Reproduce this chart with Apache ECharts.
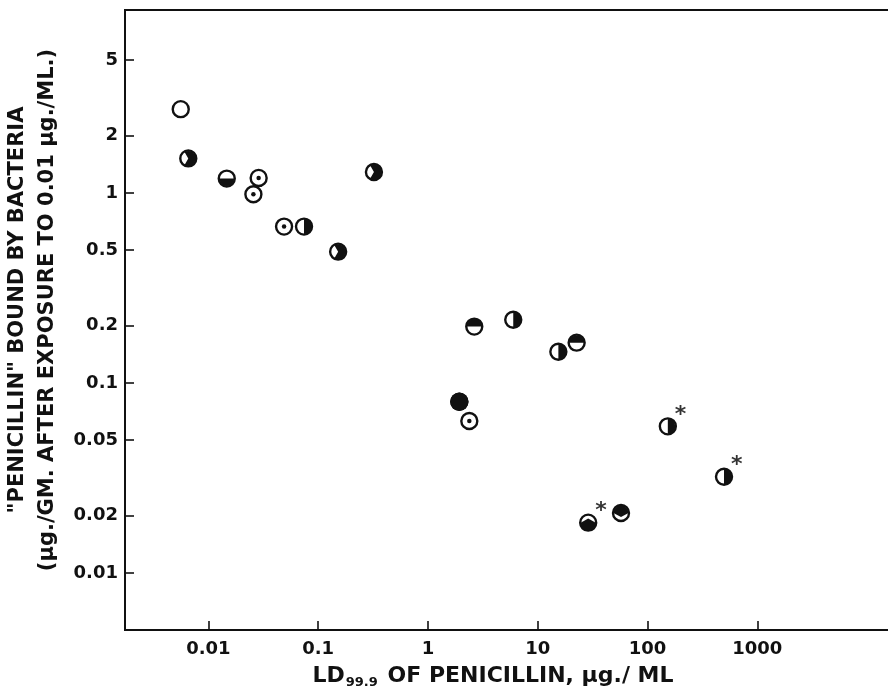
<!DOCTYPE html>
<html>
<head>
<meta charset="utf-8">
<script src="https://cdn.jsdelivr.net/npm/echarts@6/dist/echarts.min.js"></script>
<style>
  html, body { margin: 0; padding: 0; background: #fff; }
  #chart { width: 888px; height: 691px; }
</style>
</head>
<body>
<div id="chart"></div>
<script>
// LD99.9 (x) vs penicillin bound (y), one entry per strain
var xVals = [0.0056, 0.00656, 0.0147, 0.0287, 0.0257, 0.0489, 0.0743, 0.152, 0.322,
             2.64, 5.98, 15.4, 22.6, 1.93, 2.38, 153, 497, 28.8, 57.3]
var yVals = [2.76, 1.52, 1.19, 1.20, 0.984, 0.665, 0.665, 0.491, 1.29,
             0.198, 0.215, 0.146, 0.163, 0.0797, 0.0631, 0.0591, 0.0321, 0.0184, 0.0207]
var kinds = ['open', 'pac', 'bottomHalf', 'dot', 'dot', 'dot', 'rightHalf', 'pac', 'pac',
             'topHalf', 'rightHalf', 'rightHalf', 'topHalf', 'full', 'dot', 'rightHalf', 'rightHalf', 'arch', 'vee']
var starred = [0, 0, 0, 0, 0, 0, 0, 0, 0, 0, 0, 0, 0, 0, 0, 1, 1, 1, 0]

var xTicks = [0.01, 0.1, 1, 10, 100, 1000]
var xTickLabels = ['0.01', '0.1', '1', '10', '100', '1000']
var yTicks = [5, 2, 1, 0.5, 0.2, 0.1, 0.05, 0.02, 0.01]
var yTickLabels = ['5', '2', '1', '0.5', '0.2', '0.1', '0.05', '0.02', '0.01']

var ink = '#111'
var font = 'DejaVu Sans'
var R = 16 // marker diameter
var F = 15 // inner fill diameter

function pick (kind) {
  var out = []
  for (var i = 0; i < xVals.length; i++) {
    if (kind === null || kinds[i] === kind) out.push([xVals[i], yVals[i]])
  }
  return out
}
function labelFor (ticks, labels) {
  return function (v) {
    for (var i = 0; i < ticks.length; i++) {
      if (Math.abs(v - ticks[i]) < ticks[i] * 1e-6) return labels[i]
    }
    return ''
  }
}

// black inner shapes drawn over a white ring
var fills = {
  dot: { symbol: 'circle', size: 4.5, offset: [0, 0] },
  full: { symbol: 'circle', size: R + 2.4, offset: [0, 0] },
  rightHalf: { symbol: 'path://M0 -1 A1 1 0 0 1 0 1 Z', size: [F / 2, F], offset: [F / 4, 0] },
  bottomHalf: { symbol: 'path://M-1 0 A1 1 0 0 0 1 0 Z', size: [F, F / 2], offset: [0, F / 4] },
  topHalf: { symbol: 'path://M-1 0 A1 1 0 0 1 1 0 Z', size: [F, F / 2], offset: [0, -F / 4] },
  pac: { symbol: 'path://M0 0 L-0.5 -0.866 A1 1 0 1 1 -0.5 0.866 Z', size: [F * 1.5 / 2, F], offset: [F * 0.25 / 2, 0] },
  arch: { symbol: 'path://M-1 0 A1 1 0 0 0 1 0 L0 -0.55 Z', size: [F, F * 1.55 / 2], offset: [0, F * 0.225 / 2] },
  vee: { symbol: 'path://M-1 0 A1 1 0 0 1 1 0 L0 0.55 Z', size: [F, F * 1.55 / 2], offset: [0, -F * 0.225 / 2] }
}

var series = [{
  type: 'scatter',
  data: pick(null),
  symbol: 'circle',
  symbolSize: R,
  itemStyle: { color: '#fff', borderColor: ink, borderWidth: 2.4, opacity: 1 },
  silent: true,
  z: 2
}]
Object.keys(fills).forEach(function (k) {
  var f = fills[k]
  series.push({
    type: 'scatter',
    data: pick(k),
    symbol: f.symbol,
    symbolSize: f.size,
    symbolOffset: f.offset,
    itemStyle: { color: ink, opacity: 1 },
    silent: true,
    z: 3
  })
})
series.push({
  type: 'scatter',
  data: xVals.map(function (x, i) { return [x, yVals[i]] }).filter(function (d, i) { return starred[i] }),
  symbolSize: R,
  itemStyle: { color: 'rgba(0,0,0,0)' },
  label: {
    show: true,
    formatter: '*',
    position: 'right',
    distance: 0,
    offset: [-1, -11],
    color: '#000',
    fontFamily: font,
    fontWeight: 'bold',
    fontSize: 22
  },
  silent: true,
  z: 4
})

var chart = echarts.init(document.getElementById('chart'))
chart.setOption({
  animation: false,
  grid: {
    left: 125, right: -5, top: 10, bottom: 61,
    show: true, borderColor: ink, borderWidth: 2,
    outerBoundsMode: 'none'
  },
  xAxis: {
    type: 'log',
    logBase: 10,
    min: 0.00174,
    max: 17200,
    name: '{a|LD}{s|99.9}{a| OF PENICILLIN, μg./ ML}',
    nameLocation: 'middle',
    nameGap: 33,
    nameTextStyle: {
      padding: [0, 32, 0, 0],
      rich: {
        a: { fontFamily: font, fontWeight: 'bold', fontSize: 22, color: ink, lineHeight: 26, verticalAlign: 'middle' },
        s: { fontFamily: font, fontWeight: 'bold', fontSize: 13, color: ink, lineHeight: 12, verticalAlign: 'bottom', padding: [0, 2, 0, 1] }
      }
    },
    axisLine: { show: true, lineStyle: { color: ink, width: 2 } },
    axisTick: { show: true, inside: true, length: 9, lineStyle: { color: ink, width: 1.6 }, customValues: xTicks },
    axisLabel: {
      customValues: xTicks,
      formatter: labelFor(xTicks, xTickLabels),
      margin: 10,
      color: ink, fontFamily: font, fontWeight: 'bold', fontSize: 18
    },
    splitLine: { show: false },
    minorTick: { show: false }
  },
  yAxis: {
    type: 'log',
    logBase: 10,
    min: 0.00501,
    max: 9.18,
    name: '"PENICILLIN" BOUND BY BACTERIA\n(μg./GM. AFTER EXPOSURE TO 0.01 μg./ML.)',
    nameLocation: 'middle',
    nameGap: 53,
    nameTextStyle: { fontFamily: font, fontWeight: 'bold', fontSize: 21, color: ink, lineHeight: 30, padding: [0, 0, 0, 20] },
    axisLine: { show: true, lineStyle: { color: ink, width: 2 } },
    axisTick: { show: true, inside: true, length: 9, lineStyle: { color: ink, width: 1.6 }, customValues: yTicks },
    axisLabel: {
      customValues: yTicks,
      formatter: labelFor(yTicks, yTickLabels),
      margin: 7,
      color: ink, fontFamily: font, fontWeight: 'bold', fontSize: 18
    },
    splitLine: { show: false },
    minorTick: { show: false }
  },
  series: series
})
</script>
</body>
</html>
